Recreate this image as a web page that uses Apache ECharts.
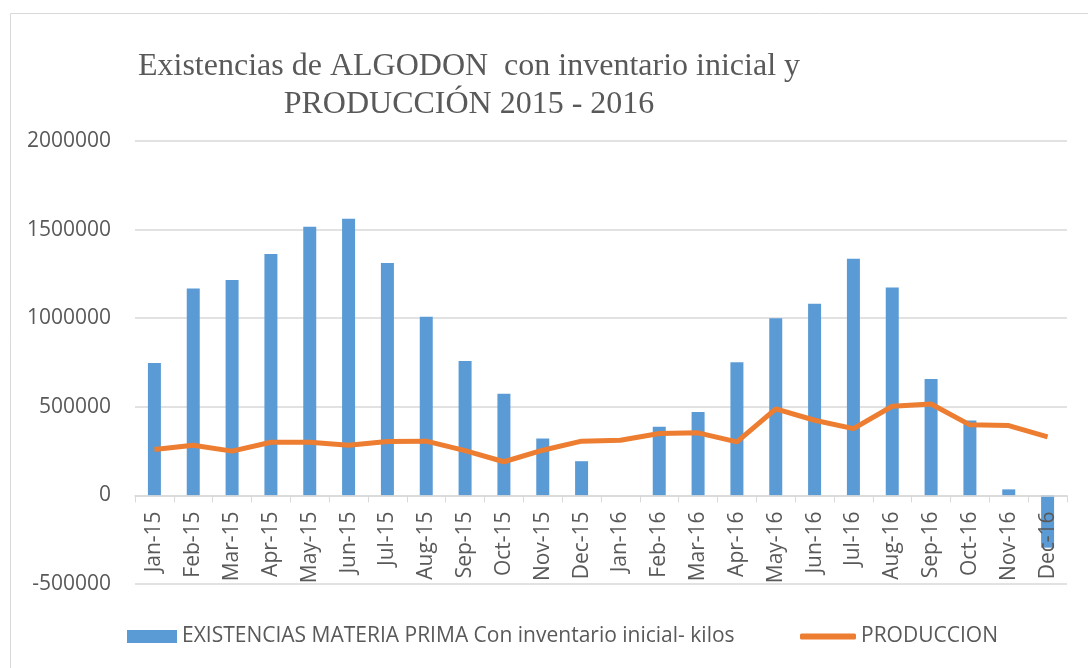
<!DOCTYPE html>
<html>
<head>
<meta charset="utf-8">
<script src="https://cdn.jsdelivr.net/npm/echarts@6/dist/echarts.min.js"></script>
<style>html,body{margin:0;padding:0;background:#fff;}#c{width:1088px;height:668px;}</style>
</head>
<body>
<div id="c"></div>
<script>
const categories = ['Jan-15','Feb-15','Mar-15','Apr-15','May-15','Jun-15','Jul-15','Aug-15','Sep-15','Oct-15','Nov-15','Dec-15',
  'Jan-16','Feb-16','Mar-16','Apr-16','May-16','Jun-16','Jul-16','Aug-16','Sep-16','Oct-16','Nov-16','Dec-16'];
const existencias = [747000,1167000,1216000,1363000,1516000,1561000,1312000,1008000,758000,573000,321000,193000,
  0,387000,471000,751000,1000000,1081000,1336000,1173000,657000,422000,34000,-295000];
const produccion = [259000,283000,250000,300000,300000,283000,304000,306000,253000,190000,255000,306000,
  311000,349000,353000,302000,488000,424000,377000,503000,516000,398000,394000,330000];
const yTicks = [-500000,0,500000,1000000,1500000,2000000];
const titleLines = ['Existencias de ALGODON  con inventario inicial y','PRODUCCIÓN 2015 - 2016'];
const seriesNames = ['EXISTENCIAS MATERIA PRIMA Con inventario inicial- kilos','PRODUCCION'];

const chart = echarts.init(document.getElementById('c'), null, {renderer:'canvas'});
const txt = '#595959', grid = '#d9d9d9', font = 'Open Sans';
const gridTop = 141, gridBottom = 84, H = 668;
const plotH = H - gridTop - gridBottom;
const yMin = yTicks[0], yMax = yTicks[yTicks.length-1];
// distance from plot bottom to the zero line (so the category axis sits on zero)
const zeroOffset = plotH * (0 - yMin) / (yMax - yMin);
chart.setOption({
  animation:false,
  textStyle:{fontFamily:font},
  graphic:[
    {type:'rect', shape:{x:10.5,y:13.5,width:1100,height:700}, style:{fill:'none',stroke:grid,lineWidth:1}, silent:true},
    {type:'text', x:469, y:51, style:{text:titleLines[0], font:'32px "Liberation Serif"', fill:txt, align:'center', verticalAlign:'top'}},
    {type:'text', x:469, y:89, style:{text:titleLines[1], font:'32px "Liberation Serif"', fill:txt, align:'center', verticalAlign:'top'}}
  ],
  legend:[
    {left:127, top:626, padding:0, itemWidth:50, itemHeight:13, icon:'rect', data:[seriesNames[0]],
     textStyle:{color:txt, fontSize:21, fontFamily:font}},
    {left:800, top:626, padding:0, itemWidth:56, itemHeight:6, icon:'roundRect', data:[seriesNames[1]],
     textStyle:{color:txt, fontSize:21, fontFamily:font}}
  ],
  grid:{left:135, right:21, top:gridTop, bottom:gridBottom, containLabel:false},
  xAxis:{type:'category', data:categories, boundaryGap:true, position:'bottom', offset:-zeroOffset, z:5,
    axisLine:{show:true, onZero:false, lineStyle:{color:grid, width:1.5}},
    axisTick:{show:true, length:7, lineStyle:{color:grid}},
    axisLabel:{rotate:90, color:txt, fontSize:21, fontFamily:font, margin:16, interval:0}},
  yAxis:{type:'value', min:yMin, max:yMax, interval:500000,
    axisLine:{show:false}, axisTick:{show:false},
    splitLine:{lineStyle:{color:grid, width:1.5}},
    axisLabel:{color:txt, fontSize:21, fontFamily:font, margin:24, formatter:function(v){return String(v);}}},
  series:[
    {name:seriesNames[0], type:'bar', data:existencias, barWidth:13, itemStyle:{color:'#5b9bd5'}},
    {name:seriesNames[1], type:'line', data:produccion, symbol:'none', lineStyle:{color:'#ed7d31', width:5}, itemStyle:{color:'#ed7d31'}}
  ]
});
</script>
</body>
</html>
